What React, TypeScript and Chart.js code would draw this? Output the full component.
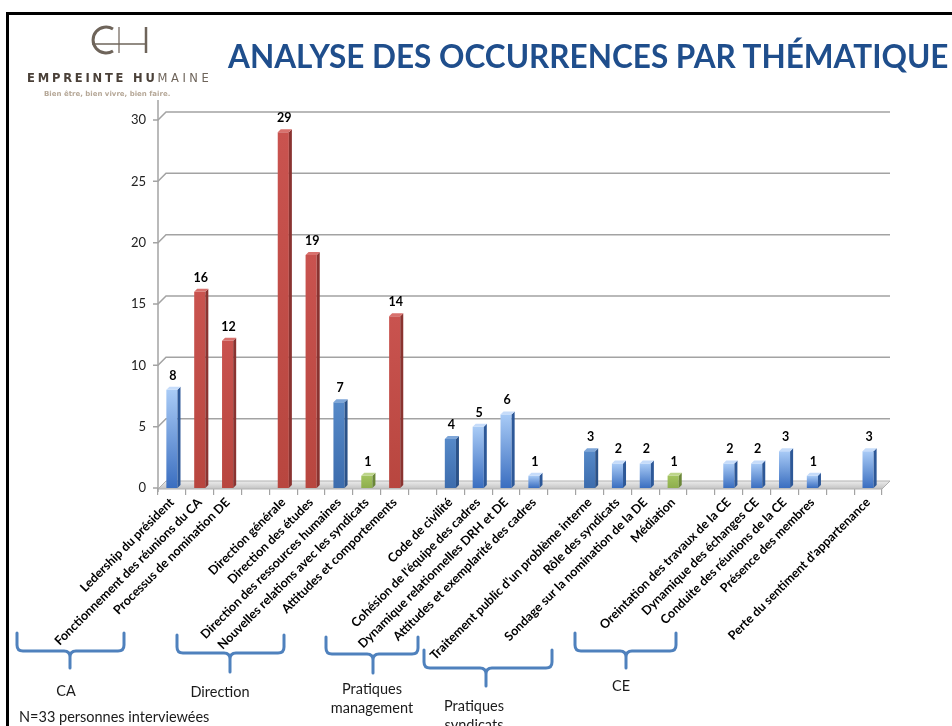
import React, { useEffect, useRef } from "react";
import { Chart, registerables } from "chart.js";

Chart.register(...registerables);

const categories = [
  "Ledership du président",
  "Fonctionnement des réunions du CA",
  "Processus de nomination DE",
  "",
  "Direction générale",
  "Direction des études",
  "Direction des ressources humaines",
  "Nouvelles relations avec les syndicats",
  "Attitudes et comportements",
  "",
  "Code de civilité",
  "Cohésion de l'équipe des cadres",
  "Dynamique relationnelles DRH et DE",
  "Attitudes et exemplarité des cadres",
  "",
  "Traitement public d'un problème interne",
  "Rôle des syndicats",
  "Sondage sur la nomination de la DE",
  "Médiation",
  "",
  "Oreintation des travaux de la CE",
  "Dynamique des échanges CE",
  "Conduite des réunions de la CE",
  "Présence des membres",
  "",
  "Perte du sentiment d'appartenance",
];

const occurrences = [
  8, 16, 12, null, 29, 19, 7, 1, 14, null, 4, 5, 6, 1, null, 3, 2, 2, 1, null, 2, 2, 3, 1, null, 3,
];

const barKinds = [
  "light", "red", "red", null, "red", "red", "dark", "green", "red", null,
  "dark", "light", "light", "light", null, "dark", "light", "light", "green", null,
  "light", "light", "light", "light", null, "light",
];

const yTickValues = [0, 5, 10, 15, 20, 25, 30];

const groupLabels = ["CA", "Direction", "Pratiques\nmanagement", "Pratiques\nsyndicats", "CE"];
const noteText = "N=33 personnes interviewées";
const titleText = "ANALYSE DES OCCURRENCES PAR THÉMATIQUE";

const PALETTE: Record<string, { top: string; bottom: string; side: string; cap: string }> = {
  light: { top: "#a9cbf6", bottom: "#3a6ec0", side: "#2d5898", cap: "#c6dcfa" },
  dark: { top: "#5689c8", bottom: "#3c6cad", side: "#2b5288", cap: "#7ea6d8" },
  red: { top: "#c9534f", bottom: "#b8463f", side: "#8a3330", cap: "#d8716d" },
  green: { top: "#a3c45f", bottom: "#8eae4d", side: "#6b8738", cap: "#bdd58a" },
};

const DEPTH = 8;
const BD = 3;

const decorPlugin = {
  id: "decor3d",
  beforeDatasetsDraw(chart: any) {
    const { ctx, chartArea: a, scales } = chart;
    const y = scales.y;
    const base = y.getPixelForValue(0);
    ctx.save();
    // floor
    const g = ctx.createLinearGradient(0, base - DEPTH, 0, base + 2);
    g.addColorStop(0, "#f2f2f2");
    g.addColorStop(1, "#bdbdbd");
    ctx.fillStyle = g;
    ctx.beginPath();
    ctx.moveTo(a.left, base + 1);
    ctx.lineTo(a.right, base + 1);
    ctx.lineTo(a.right + DEPTH, base + 1 - DEPTH);
    ctx.lineTo(a.left + DEPTH, base + 1 - DEPTH);
    ctx.closePath();
    ctx.fill();
    ctx.strokeStyle = "#b0b0b0";
    ctx.lineWidth = 1;
    ctx.stroke();
    // grid lines on back wall
    ctx.strokeStyle = "#a3a3a3";
    ctx.lineWidth = 1.5;
    for (const v of yTickValues) {
      const py = y.getPixelForValue(v);
      ctx.beginPath();
      ctx.moveTo(a.left - 5, py);
      ctx.lineTo(a.left, py);
      if (v !== 0) {
        ctx.lineTo(a.left + DEPTH, py - DEPTH);
        ctx.lineTo(a.right + DEPTH, py - DEPTH);
      }
      ctx.stroke();
    }
    // vertical axis
    ctx.beginPath();
    ctx.moveTo(a.left, a.top - 20);
    ctx.lineTo(a.left, base + 4);
    ctx.stroke();
    ctx.restore();
  },
  afterDatasetsDraw(chart: any) {
    const { ctx } = chart;
    const meta = chart.getDatasetMeta(0);
    ctx.save();
    meta.data.forEach((el: any, i: number) => {
      const v = occurrences[i];
      const kind = barKinds[i];
      if (v == null || !kind) return;
      const { x, y, base, width } = el.getProps(["x", "y", "base", "width"], true);
      const x0 = x - width / 2;
      const x1 = x + width / 2;
      const p = PALETTE[kind];
      // side
      ctx.fillStyle = p.side;
      ctx.beginPath();
      ctx.moveTo(x1, y);
      ctx.lineTo(x1 + BD, y - BD);
      ctx.lineTo(x1 + BD, base - BD);
      ctx.lineTo(x1, base);
      ctx.closePath();
      ctx.fill();
      // cap
      ctx.fillStyle = p.cap;
      ctx.beginPath();
      ctx.moveTo(x0, y);
      ctx.lineTo(x1, y);
      ctx.lineTo(x1 + BD, y - BD);
      ctx.lineTo(x0 + BD, y - BD);
      ctx.closePath();
      ctx.fill();
      // value label
      ctx.fillStyle = "#000";
      ctx.font = "bold 12.5px Lato";
      ctx.textAlign = "center";
      ctx.textBaseline = "middle";
      ctx.fillText(String(v), x + 1, y - 14);
    });
    ctx.restore();
  },
};

function bracePath(x1: number, x2: number, y0: number, y1: number, c: number, y2: number) {
  const r = 6;
  return `M ${x1} ${y0} L ${x1} ${y1 - r} Q ${x1} ${y1} ${x1 + r} ${y1} L ${c - r} ${y1} Q ${c} ${y1} ${c} ${y1 + r} L ${c} ${y2} M ${c} ${y1 + r} Q ${c} ${y1} ${c + r} ${y1} L ${x2 - r} ${y1} Q ${x2} ${y1} ${x2} ${y1 - r} L ${x2} ${y0}`;
}

const braces = [
  [17, 124, 633, 651, 70, 668],
  [177, 284, 635, 653, 230, 672],
  [326, 418, 637, 654, 373, 673],
  [424, 552, 650, 668, 486, 686],
  [575, 676, 633, 651, 626, 668],
];

const groupLabelPos = [
  [66, 681],
  [220, 682],
  [372, 679],
  [474, 696],
  [621, 676],
];

export default function App() {
  const canvasRef = useRef<HTMLCanvasElement | null>(null);

  useEffect(() => {
    const canvas = canvasRef.current;
    if (!canvas) return;
    const chart = new Chart(canvas, {
      type: "bar",
      data: {
        labels: categories,
        datasets: [
          {
            data: occurrences as any,
            barPercentage: 0.4,
            categoryPercentage: 1,
            backgroundColor: (c: any) => {
              const kind = barKinds[c.dataIndex];
              if (!kind) return "rgba(0,0,0,0)";
              const p = PALETTE[kind];
              const ys = c.chart.scales.y;
              const v = occurrences[c.dataIndex] ?? 0;
              if (!ys) return p.bottom;
              const top = ys.getPixelForValue(v);
              const bot = ys.getPixelForValue(0);
              if (!isFinite(top) || !isFinite(bot) || top === bot) return p.bottom;
              const g = c.chart.ctx.createLinearGradient(0, top, 0, bot);
              g.addColorStop(0, p.top);
              g.addColorStop(1, p.bottom);
              return g;
            },
            borderWidth: 0,
          },
        ],
      },
      options: {
        responsive: false,
        animation: false,
        layout: { padding: { top: 120, right: 70, left: 0, bottom: 0 } },
        plugins: {
          legend: { display: false },
          tooltip: { enabled: false },
        },
        scales: {
          x: {
            grid: { display: true, drawOnChartArea: false, tickLength: 7, color: "#a3a3a3", lineWidth: 1.2 },
            border: { display: false },
            ticks: {
              autoSkip: false,
              maxRotation: 45,
              minRotation: 45,
              padding: 0,
              color: "#000",
              font: { family: "Lato", size: 12.5, weight: "bold" },
            },
            afterFit: (s: any) => {
              s.height = 238;
            },
          },
          y: {
            min: 0,
            max: 30,
            grid: { display: false },
            border: { display: false },
            ticks: {
              stepSize: 5,
              padding: 4,
              color: "#222",
              font: { family: "Lato", size: 13 },
            },
            afterFit: (s: any) => {
              s.width = 158;
            },
          },
        },
      },
      plugins: [decorPlugin],
    });
    return () => chart.destroy();
  }, []);

  return (
    <div
      style={{
        position: "absolute",
        left: 0,
        top: 0,
        width: 952,
        height: 726,
        overflow: "hidden",
        background: "#fff",
        fontFamily: "Lato, sans-serif",
      }}
    >
      <canvas
        ref={canvasRef}
        width={952}
        height={726}
        style={{ position: "absolute", left: 0, top: 0, width: 952, height: 726 }}
      />
      {/* frame */}
      <div
        style={{
          position: "absolute",
          left: 6,
          top: 12,
          width: 1000,
          height: 800,
          borderLeft: "3px solid #000",
          borderTop: "3px solid #000",
          pointerEvents: "none",
        }}
      />
      {/* logo */}
      <svg style={{ position: "absolute", left: 0, top: 0 }} width={240} height={110}>
        <path d="M 113 29 A 13 13 0 1 0 113 51" fill="none" stroke="#6e645a" strokeWidth={3} />
        <line x1={119} y1={27} x2={119} y2={53} stroke="#8a8178" strokeWidth={1.5} />
        <line x1={92} y1={44} x2={146} y2={44} stroke="#6e645a" strokeWidth={1.5} />
        <line x1={146} y1={27} x2={146} y2={53} stroke="#6e645a" strokeWidth={2.5} />
      </svg>
      <div
        style={{
          position: "absolute",
          left: 27,
          top: 72,
          fontSize: 11.5,
          lineHeight: "12px",
          whiteSpace: "nowrap",
          fontFamily: "DejaVu Sans",
        }}
      >
        <span style={{ fontWeight: "bold", color: "#4a4038", letterSpacing: 2.8 }}>EMPREINTE HU</span>
        <span style={{ color: "#6e645a", letterSpacing: 3.5 }}>MAINE</span>
      </div>
      <div
        style={{
          position: "absolute",
          left: 44,
          top: 90,
          fontSize: 7,
          fontWeight: "bold",
          color: "#b6a898",
          whiteSpace: "nowrap",
          fontFamily: "DejaVu Sans",
        }}
      >
        Bien être, bien vivre, bien faire.
      </div>
      {/* title */}
      <div
        style={{
          position: "absolute",
          left: 228,
          top: 41,
          fontSize: 31.5,
          lineHeight: "31px",
          fontWeight: "bold",
          color: "#1f4e8c",
          whiteSpace: "nowrap",
          fontFamily: "Lato",
        }}
      >
        {titleText}
      </div>
      {/* braces */}
      <svg style={{ position: "absolute", left: 0, top: 0 }} width={952} height={726}>
        {braces.map((b, i) => (
          <path
            key={i}
            d={bracePath(b[0], b[1], b[2], b[3], b[4], b[5])}
            fill="none"
            stroke="#4f81bd"
            strokeWidth={3}
            strokeLinecap="round"
          />
        ))}
      </svg>
      {groupLabels.map((t, i) => (
        <div
          key={i}
          style={{
            position: "absolute",
            left: groupLabelPos[i][0] - 80,
            top: groupLabelPos[i][1],
            width: 160,
            textAlign: "center",
            fontSize: 14.5,
            lineHeight: "19px",
            color: "#1a1a1a",
            whiteSpace: "pre",
          }}
        >
          {t}
        </div>
      ))}
      <div
        style={{
          position: "absolute",
          left: 19,
          top: 707,
          fontSize: 14.5,
          lineHeight: "19px",
          color: "#1a1a1a",
          whiteSpace: "nowrap",
        }}
      >
        {noteText}
      </div>
    </div>
  );
}
